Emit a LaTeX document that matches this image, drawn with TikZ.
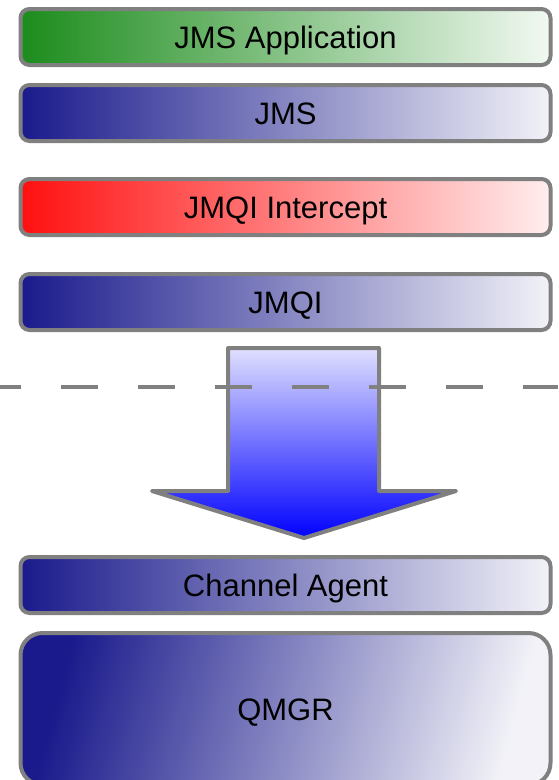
\documentclass[tikz,border=0pt]{standalone}
\usepackage{fontspec}
\setmainfont{Liberation Sans}
\usetikzlibrary{positioning}
\definecolor{layergray}{HTML}{808080}
\definecolor{appgreen}{HTML}{1C8C1C}
\definecolor{appgreenlt}{HTML}{F2F9F2}
\definecolor{mqblue}{HTML}{1A1A8C}
\definecolor{mqbluelt}{HTML}{F2F2F8}
\definecolor{hookred}{HTML}{FF1010}
\definecolor{hookredlt}{HTML}{FFEEEE}

\begin{document}
\begin{tikzpicture}[
  x=1pt, y=-1pt,
  font=\fontsize{31pt}{36pt}\selectfont,
  layer/.style={
    draw=layergray,
    line width=4pt,
    rounded corners=9pt,
    minimum width=530pt,
    minimum height=56pt,
    inner sep=0pt,
    outer sep=0pt,
    text height=23pt,
    text depth=0pt,
    align=center,
    text=black
  },
  mqlayer/.style={layer, left color=mqblue, middle color=mqblue!62!white, right color=mqbluelt},
  applayer/.style={layer, left color=appgreen, middle color=appgreen!65!white, right color=appgreenlt},
  hooklayer/.style={layer, left color=hookred, middle color=hookred!60!white, right color=hookredlt},
  boundary/.style={
    draw=layergray,
    line width=4pt,
    dash pattern=on 37pt off 40pt,
    dash phase=16pt
  }
]
  \useasboundingbox (0,0) rectangle (558,780);

  % --- CLIENT SIDE STACK ---
  \node[applayer] (app) at (285.5,37) {JMS Application};
  \node[mqlayer, below=20pt of app] (jms) {JMS};
  \node[hooklayer, below=38pt of jms] (icpt) {JMQI Intercept};
  \node[mqlayer, below=39pt of icpt] (jmqi) {JMQI};

  % --- QUEUE MANAGER SIDE ---
  \node[mqlayer, below=227pt of jmqi] (chan) {Channel Agent};
  \node[mqlayer, shading angle=75, rounded corners=22pt, minimum height=152pt, below=20pt of chan] (qmgr) {QMGR};

  % Flow arrow across the network
  \draw[draw=layergray, line width=4pt, line join=round, top color=blue!12, bottom color=blue]
    (228,348) -- (379,348) -- (379,491) -- (456,491) -- (304,538)
    -- (152,491) -- (228,491) -- cycle;

  % Network boundary
  \draw[boundary] (0,387) -- (558,387);

\end{tikzpicture}
\end{document}
